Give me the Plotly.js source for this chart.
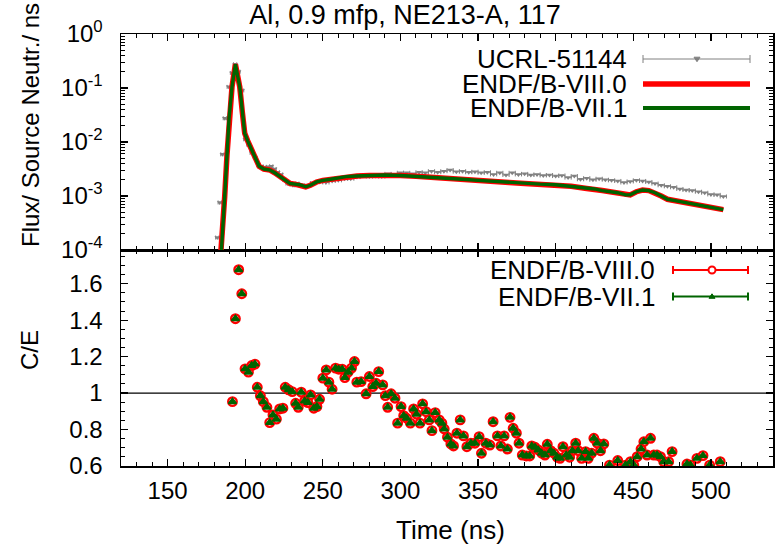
<!DOCTYPE html>
<html><head><meta charset="utf-8">
<script src="https://cdn.plot.ly/plotly-3.0.1.min.js"></script>
<style>html,body{margin:0;padding:0;background:#fff;}#chart{width:779px;height:547px;}</style>
</head><body><div id="chart"></div>
<script>
// ---- data ----
const calcTime = [182, 184.7, 186.8, 188.3, 189.6, 191.5, 193.7, 196.5, 198.2, 199.7, 201.6, 205, 209, 212, 216, 219, 222, 225.5, 229, 232, 235, 239, 242, 246, 250, 255, 260, 265, 272, 280, 290, 300, 310, 320, 330, 340, 350, 360, 370, 380, 390, 400, 410, 420, 425, 430, 435, 440, 445, 448, 452, 456, 460, 464, 468, 472, 476, 480, 485, 490, 495, 500, 505, 508];
const calcVIII = [1e-5, 1e-4, 9.8e-4, 5.9e-3, 0.0275, 0.105, 0.275, 0.105, 0.0347, 0.0145, 0.0105, 0.0063, 0.00355, 0.00316, 0.00302, 0.00269, 0.00234, 0.0020, 0.0017, 0.00166, 0.00162, 0.00148, 0.00158, 0.00182, 0.00195, 0.00204, 0.00219, 0.00229, 0.00234, 0.0024, 0.00245, 0.0024, 0.00232, 0.00224, 0.00214, 0.00204, 0.00195, 0.00186, 0.00178, 0.0017, 0.00166, 0.00162, 0.00151, 0.00138, 0.00135, 0.00126, 0.0012, 0.00115, 0.00105, 0.00105, 0.0012, 0.00129, 0.00126, 0.00115, 0.001, 0.00087, 0.00083, 0.00079, 0.00076, 0.00072, 0.00068, 0.00063, 0.00058, 0.00056];
const calcVII = [1e-5, 1e-4, 9.8e-4, 5.9e-3, 0.0275, 0.105, 0.275, 0.105, 0.0347, 0.0145, 0.0105, 0.0063, 0.00355, 0.00316, 0.00302, 0.00269, 0.00234, 0.0020, 0.0017, 0.00166, 0.00162, 0.00148, 0.00158, 0.00182, 0.00195, 0.00204, 0.00219, 0.00229, 0.00234, 0.0024, 0.00245, 0.0024, 0.00232, 0.00224, 0.00214, 0.00204, 0.00195, 0.00186, 0.00178, 0.0017, 0.00166, 0.00162, 0.00151, 0.00138, 0.00135, 0.00126, 0.0012, 0.00115, 0.00105, 0.00105, 0.0012, 0.00129, 0.00126, 0.00115, 0.001, 0.00087, 0.00083, 0.00079, 0.00076, 0.00072, 0.00068, 0.00063, 0.00058, 0.00056];

const expTimeFine = [182.0, 183.6, 185.3, 186.9, 189.4, 191.5, 193.5, 195.7, 198.0, 200.1, 202.1, 204.2, 206.3, 208.4, 210.5, 212.6, 214.7, 216.8, 218.9, 221.0, 223.1, 225.2, 227.3, 229.4, 231.5, 233.6, 235.7, 237.8];
const expFluxFine = [1.7e-4, 7.6e-4, 5.9e-3, 0.0275, 0.105, 0.19, 0.275, 0.2, 0.09, 0.0112, 0.0089, 0.0063, 0.0052, 0.0038, 0.00355, 0.00339, 0.00347, 0.00355, 0.00316, 0.00275, 0.00251, 0.002, 0.0017, 0.00166, 0.00158, 0.0017, 0.00158, 0.00155];
const expTimeCoarse = [240, 244, 248, 252, 256, 260, 264, 268, 272, 276, 280, 284, 288, 292, 296, 300, 304, 308, 312, 316, 320, 324, 328, 332, 336, 340, 344, 348, 352, 356, 360, 364, 368, 372, 376, 380, 384, 388, 392, 396, 400, 404, 408, 412, 416, 420, 424, 428, 432, 436, 440, 444, 448, 452, 456, 460, 464, 468, 472, 476, 480, 484, 488, 492, 496, 500, 504, 508];
const expFluxCoarse = [0.001585, 0.001738, 0.00182, 0.00178, 0.0019, 0.00195, 0.00209, 0.00209, 0.00224, 0.0024, 0.00229, 0.00234, 0.00229, 0.00257, 0.00251, 0.00269, 0.00269, 0.00257, 0.00275, 0.00269, 0.00288, 0.00275, 0.00288, 0.00302, 0.00282, 0.00288, 0.00275, 0.00282, 0.00269, 0.00275, 0.00251, 0.00269, 0.00245, 0.00269, 0.00251, 0.00257, 0.00245, 0.00251, 0.0024, 0.00245, 0.00234, 0.0024, 0.00219, 0.00234, 0.00204, 0.00214, 0.002, 0.00209, 0.002, 0.00195, 0.0019, 0.00178, 0.00186, 0.00195, 0.0019, 0.00182, 0.0017, 0.00158, 0.00151, 0.00145, 0.00135, 0.00129, 0.00126, 0.0012, 0.00115, 0.00107, 0.00105, 0.00098];

const ceTime = [191.8, 193.7, 195.8, 197.8, 199.9, 202.1, 204.2, 206.3, 207.8, 209.8, 211.7, 214.0, 215.8, 217.9, 220.1, 222.2, 224.3, 225.8, 228.0, 230.3, 232.5, 234.2, 236.1, 238.3, 240.4, 242.1, 244.2, 246.2, 247.9, 250.0, 252.2, 253.9, 256.0, 258.2, 260.3, 262.5, 264.2, 266.3, 268.5, 270.4, 271.9, 274.7, 277.9, 280.0, 282.2, 284.3, 286.0, 288.6, 290.3, 291.8, 294.0, 296.5, 298.2, 300.4, 302.1, 304.0, 306.4, 308.5, 310.4, 312.6, 314.3, 316.5, 318.6, 320.3, 322.4, 325.0, 326.7, 328.2, 330.3, 332.5, 334.2, 336.4, 338.5, 340.6, 342.8, 345.4, 348.0, 350.7, 352.2, 355.0, 357.6, 359.7, 362.5, 364.7, 366.8, 368.9, 370.6, 372.6, 374.7, 376.4, 378.5, 381.1, 383.3, 384.6, 386.7, 388.8, 391.0, 393.1, 394.6, 396.8, 398.9, 401.0, 402.8, 404.7, 406.8, 409.0, 410.7, 412.9, 414.5, 416.7, 419.3, 421.0, 423.2, 424.6, 426.8, 428.9, 431.0, 434.7, 440.0, 445.0, 448.2, 450.3, 452.5, 455.0, 456.8, 458.9, 461.1, 463.2, 465.3, 467.5, 469.6, 472.8, 475.0, 484.6, 486.8, 491.0, 494.9, 499.2, 506.0];
const ceVIII = [0.953, 1.408, 1.677, 1.545, 1.133, 1.115, 1.151, 1.159, 1.032, 0.985, 0.953, 0.922, 0.838, 0.880, 0.857, 0.913, 0.917, 1.032, 1.018, 1.008, 0.944, 0.922, 1.005, 0.957, 0.948, 0.99, 0.917, 0.926, 0.966, 1.082, 1.127, 1.06, 1.021, 1.137, 1.131, 1.131, 1.085, 1.115, 1.137, 1.173, 1.06, 1.063, 0.996, 1.091, 1.036, 1.054, 1.118, 1.045, 0.986, 0.922, 0.996, 0.972, 0.835, 0.926, 0.876, 0.862, 0.835, 0.913, 0.884, 0.835, 0.941, 0.898, 0.853, 0.794, 0.893, 0.853, 0.835, 0.803, 0.758, 0.721, 0.71, 0.78, 0.853, 0.765, 0.706, 0.725, 0.725, 0.761, 0.67, 0.725, 0.715, 0.843, 0.765, 0.71, 0.765, 0.693, 0.867, 0.807, 0.78, 0.725, 0.66, 0.655, 0.655, 0.71, 0.703, 0.688, 0.67, 0.66, 0.719, 0.684, 0.67, 0.648, 0.642, 0.706, 0.66, 0.648, 0.684, 0.725, 0.684, 0.642, 0.679, 0.642, 0.67, 0.752, 0.725, 0.684, 0.721, 0.605, 0.63, 0.605, 0.624, 0.605, 0.651, 0.693, 0.733, 0.66, 0.752, 0.66, 0.66, 0.651, 0.624, 0.624, 0.679, 0.611, 0.605, 0.642, 0.657, 0.605, 0.624];
const ceVII = [0.953, 1.408, 1.677, 1.545, 1.133, 1.115, 1.151, 1.159, 1.032, 0.985, 0.953, 0.922, 0.838, 0.880, 0.857, 0.913, 0.917, 1.032, 1.018, 1.008, 0.944, 0.922, 1.005, 0.957, 0.948, 0.99, 0.917, 0.926, 0.966, 1.082, 1.127, 1.06, 1.021, 1.137, 1.131, 1.131, 1.085, 1.115, 1.137, 1.173, 1.06, 1.063, 0.996, 1.091, 1.036, 1.054, 1.118, 1.045, 0.986, 0.922, 0.996, 0.972, 0.835, 0.926, 0.876, 0.862, 0.835, 0.913, 0.884, 0.835, 0.941, 0.898, 0.853, 0.794, 0.893, 0.853, 0.835, 0.803, 0.758, 0.721, 0.71, 0.78, 0.853, 0.765, 0.706, 0.725, 0.725, 0.761, 0.67, 0.725, 0.715, 0.843, 0.765, 0.71, 0.765, 0.693, 0.867, 0.807, 0.78, 0.725, 0.66, 0.655, 0.655, 0.71, 0.703, 0.688, 0.67, 0.66, 0.719, 0.684, 0.67, 0.648, 0.642, 0.706, 0.66, 0.648, 0.684, 0.725, 0.684, 0.642, 0.679, 0.642, 0.67, 0.752, 0.725, 0.684, 0.721, 0.605, 0.63, 0.605, 0.624, 0.605, 0.651, 0.693, 0.733, 0.66, 0.752, 0.66, 0.66, 0.651, 0.624, 0.624, 0.679, 0.611, 0.605, 0.642, 0.657, 0.605, 0.624];

const xTickVals = [150, 200, 250, 300, 350, 400, 450, 500];
const ceTickVals = [0.6, 0.8, 1, 1.2, 1.4, 1.6];
const ceTickText = ['0.6', '0.8', '1', '1.2', '1.4', '1.6'];
const fluxTickVals = [1e-4, 1e-3, 1e-2, 1e-1, 1];
const fluxTickText = ['10<sup>-4</sup>', '10<sup>-3</sup>', '10<sup>-2</sup>', '10<sup>-1</sup>', '10<sup>0</sup>'];
const fluxMinorMantissa = [2, 3, 4, 5, 6, 7, 8, 9];
const topLegend = ['UCRL-51144', 'ENDF/B-VIII.0', 'ENDF/B-VII.1'];
const botLegend = ['ENDF/B-VIII.0', 'ENDF/B-VII.1'];

// minor tick positions of the log axis (2..9 in each decade)
const fluxMinorTicks = [];
fluxTickVals.slice(0, 4).forEach(d => fluxMinorMantissa.forEach(m => fluxMinorTicks.push(d * m)));

// ---- styling / layout ----
const FONT = 'Liberation Sans, Arial, Helvetica, sans-serif';
const L = 121, R = 773, T = 34, B = 466, W = 779, H = 547;
const GRAY = '#808080', RED = '#ff0000', GREEN = '#006400';
const P = x => (x - L) / (R - L);
const Q = y => (B - y) / (B - T);

const traces = [
  {x: expTimeFine, y: expFluxFine, xaxis: 'x2', yaxis: 'y2', mode: 'markers', type: 'scatter',
   marker: {symbol: 'triangle-down', size: 5, color: GRAY},
   error_x: {type: 'constant', value: 1.05, color: GRAY, thickness: 1, width: 2}},
  {x: expTimeCoarse, y: expFluxCoarse, xaxis: 'x2', yaxis: 'y2', mode: 'markers', type: 'scatter',
   marker: {symbol: 'triangle-down', size: 5, color: GRAY},
   error_x: {type: 'constant', value: 2, color: GRAY, thickness: 1, width: 2}},
  {x: calcTime, y: calcVIII, xaxis: 'x2', yaxis: 'y2', mode: 'lines', type: 'scatter',
   line: {color: RED, width: 5.5}},
  {x: calcTime, y: calcVII, xaxis: 'x2', yaxis: 'y2', mode: 'lines', type: 'scatter',
   line: {color: GREEN, width: 3.4}},
  {x: ceTime, y: ceVIII, xaxis: 'x', yaxis: 'y', mode: 'markers', type: 'scatter',
   marker: {symbol: 'circle-open', size: 8.5, color: RED, line: {width: 2.4, color: RED}}},
  {x: ceTime, y: ceVII, xaxis: 'x', yaxis: 'y', mode: 'markers', type: 'scatter',
   marker: {symbol: 'triangle-up', size: 7, color: GREEN, line: {width: 1.5, color: GREEN}}}
];

const tickfont = {family: FONT, size: 24, color: '#000'};
const xBase = {
  range: [120, 540], tickmode: 'array', tickvals: xTickVals, ticks: 'inside', ticklen: 7, tickwidth: 1.2,
  tickcolor: '#000', showline: true, linecolor: '#000', linewidth: 1.5, mirror: 'ticks',
  showgrid: false, zeroline: false, tickfont: tickfont,
  minor: {dtick: 10, tick0: 0, ticks: 'inside', ticklen: 4, tickwidth: 1, tickcolor: '#000', showgrid: false}
};

const layout = {
  width: W, height: H,
  margin: {l: L, r: W - R, t: T, b: H - B, pad: 0},
  paper_bgcolor: '#fff', plot_bgcolor: '#fff',
  showlegend: false,
  font: {family: FONT, color: '#000'},
  title: {text: 'Al, 0.9 mfp, NE213-A, 117', font: {family: FONT, size: 27, color: '#000'},
          xref: 'container', x: 405 / W, xanchor: 'center', yref: 'container', y: 1 - 15 / H, yanchor: 'middle'},
  xaxis: Object.assign({}, xBase, {anchor: 'y', domain: [0, 1], ticklabelstandoff: 3}),
  xaxis2: Object.assign({}, xBase, {anchor: 'y2', domain: [0, 1], matches: 'x', showticklabels: false}),
  yaxis: {anchor: 'x', domain: [0, 0.5], range: [0.6, 1.785], tickmode: 'array', tickvals: ceTickVals,
          ticktext: ceTickText, ticks: 'inside', ticklen: 7, tickwidth: 1.2, tickcolor: '#000',
          showline: true, linecolor: '#000', linewidth: 1.5, mirror: 'ticks', showgrid: false,
          zeroline: false, tickfont: tickfont, ticklabelstandoff: 12,
          minor: {dtick: 0.05, tick0: 0, ticks: 'inside', ticklen: 4, tickwidth: 1, tickcolor: '#000', showgrid: false}},
  yaxis2: {anchor: 'x2', domain: [0.5, 1], type: 'log', range: [-4, 0], tickmode: 'array',
           tickvals: fluxTickVals, ticktext: fluxTickText, ticks: 'inside', ticklen: 7, tickwidth: 1.2,
           tickcolor: '#000', showline: true, linecolor: '#000', linewidth: 1.5, mirror: 'ticks',
           showgrid: false, zeroline: false, tickfont: tickfont, ticklabelstandoff: 12,
           minor: {tickmode: 'array', tickvals: fluxMinorTicks, ticks: 'inside', ticklen: 4, tickwidth: 1,
                   tickcolor: '#000', showgrid: false}},
  shapes: [
    {type: 'line', xref: 'x domain', yref: 'y', x0: 0, x1: 1, y0: 1, y1: 1, layer: 'below',
     line: {color: '#000', width: 1.2}}
  ],
  annotations: [
    {text: 'Flux/ Source Neutr./ ns', xref: 'paper', yref: 'paper', x: P(30), y: Q(125), textangle: -90,
     showarrow: false, xanchor: 'center', yanchor: 'middle', font: {family: FONT, size: 24, color: '#000'}},
    {text: 'C/E', xref: 'paper', yref: 'paper', x: P(30), y: Q(350), textangle: -90,
     showarrow: false, xanchor: 'center', yanchor: 'middle', font: {family: FONT, size: 24, color: '#000'}},
    {text: 'Time (ns)', xref: 'paper', yref: 'paper', x: P(450), y: Q(530),
     showarrow: false, xanchor: 'center', yanchor: 'middle', font: {family: FONT, size: 26, color: '#000'}}
  ]
};

// ---- key (text on the left, sample on the right, as in the reference) ----
function hline(x0, x1, y, color, width) {
  layout.shapes.push({type: 'line', xref: 'paper', yref: 'paper', x0: P(x0), x1: P(x1), y0: Q(y), y1: Q(y),
                      line: {color: color, width: width}});
}
function vline(x, y0, y1, color, width) {
  layout.shapes.push({type: 'line', xref: 'paper', yref: 'paper', x0: P(x), x1: P(x), y0: Q(y0), y1: Q(y1),
                      line: {color: color, width: width}});
}
function tri(cx, cy, s, up, color) {
  const h = up ? -s : s;
  const pts = [[cx - s, cy - h * 0.6], [cx + s, cy - h * 0.6], [cx, cy + h * 0.9]];
  const path = 'M' + pts.map(p => P(p[0]) + ',' + Q(p[1])).join(' L') + ' Z';
  layout.shapes.push({type: 'path', xref: 'paper', yref: 'paper', path: path, fillcolor: color,
                      line: {color: color, width: 1}});
}
function label(text, x, y) {
  layout.annotations.push({text: text, xref: 'paper', yref: 'paper', x: P(x), y: Q(y), showarrow: false,
                           borderpad: 0, xanchor: 'right', yanchor: 'middle',
                           font: {family: FONT, size: 26, color: '#000'}});
}
// top key
const topRows = [59, 84, 108];
label(topLegend[0], 628, topRows[0]);
hline(643, 750, topRows[0], GRAY, 1); vline(643, topRows[0] - 4, topRows[0] + 4, GRAY, 1);
vline(750, topRows[0] - 4, topRows[0] + 4, GRAY, 1); tri(697, topRows[0], 3, false, GRAY);
label(topLegend[1], 628, topRows[1]);
hline(643, 750, topRows[1], RED, 5.5);
label(topLegend[2], 628, topRows[2]);
hline(643, 750, topRows[2], GREEN, 4);
// bottom key
const botRows = [270, 296.5];
label(botLegend[0], 656, botRows[0]);
hline(673, 748, botRows[0], RED, 2); vline(673, botRows[0] - 4, botRows[0] + 4, RED, 2);
vline(748, botRows[0] - 4, botRows[0] + 4, RED, 2);
layout.shapes.push({type: 'circle', xref: 'paper', yref: 'paper', x0: P(708.5), x1: P(715.5),
                    y0: Q(266.5), y1: Q(273.5), fillcolor: '#fff', line: {color: RED, width: 2}});
label(botLegend[1], 656, botRows[1]);
hline(673, 748, botRows[1], GREEN, 2); vline(673, botRows[1] - 4, botRows[1] + 4, GREEN, 2);
vline(748, botRows[1] - 4, botRows[1] + 4, GREEN, 2); tri(712, botRows[1], 3, true, GREEN);

Plotly.newPlot('chart', traces, layout, {staticPlot: true, displayModeBar: false});
</script>
</body></html>
